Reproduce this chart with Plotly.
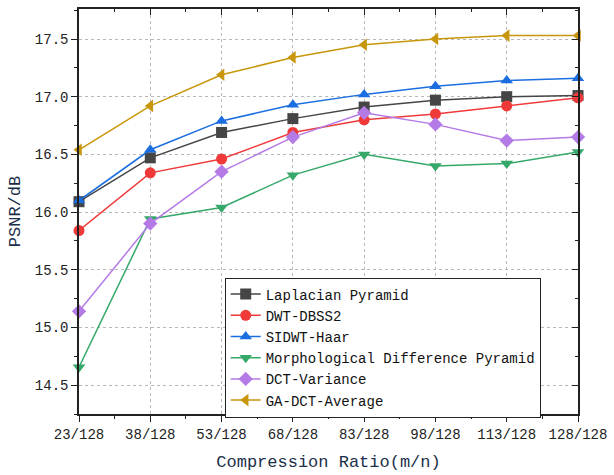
import plotly.graph_objects as go

ratios = [23, 38, 53, 68, 83, 98, 113, 128]
tick_labels = ["23/128", "38/128", "53/128", "68/128", "83/128", "98/128", "113/128", "128/128"]
y_ticks = [14.5, 15.0, 15.5, 16.0, 16.5, 17.0, 17.5]
y_tick_labels = ["14.5", "15.0", "15.5", "16.0", "16.5", "17.0", "17.5"]

laplacian = [16.09, 16.47, 16.69, 16.81, 16.91, 16.97, 17.00, 17.01]
dwt_dbss2 = [15.84, 16.34, 16.46, 16.69, 16.80, 16.85, 16.92, 16.99]
sidwt_haar = [16.10, 16.54, 16.79, 16.93, 17.02, 17.09, 17.14, 17.16]
morph_diff = [14.655, 15.94, 16.04, 16.32, 16.50, 16.40, 16.42, 16.52]
dct_var = [15.14, 15.90, 16.35, 16.65, 16.86, 16.76, 16.62, 16.65]
ga_dct_avg = [16.54, 16.92, 17.19, 17.34, 17.45, 17.50, 17.53, 17.53]

series = [
    ("Laplacian Pyramid", laplacian, "#454545", "square"),
    ("DWT-DBSS2", dwt_dbss2, "#f03a3a", "circle"),
    ("SIDWT-Haar", sidwt_haar, "#1a6ee0", "triangle-up"),
    ("Morphological Difference Pyramid", morph_diff, "#35a86a", "triangle-down"),
    ("DCT-Variance", dct_var, "#b47ae6", "diamond"),
    ("GA-DCT-Average", ga_dct_avg, "#c8960a", "triangle-left"),
]

fig = go.Figure()
# invisible trace on mirrored axes (top / right) so their inward ticks are drawn
fig.add_trace(go.Scatter(x=ratios, y=laplacian, xaxis="x2", yaxis="y2", mode="markers",
                         marker=dict(opacity=0), showlegend=False, hoverinfo="skip"))
for name, vals, color, sym in series:
    fig.add_trace(go.Scatter(
        x=ratios, y=vals, name=name, mode="lines+markers",
        line=dict(color=color, width=1.5),
        marker=dict(symbol=sym, size=11, color=color),
        cliponaxis=False,
    ))

font_main = "Liberation Mono, DejaVu Sans Mono, monospace"
axis_col = "#222222"
title_col = "#1b2f4a"
x_range = [23, 128]
y_range = [14.25, 17.76]

fig.update_layout(
    width=614, height=475,
    margin=dict(l=79, r=31, t=7, b=61),
    paper_bgcolor="white", plot_bgcolor="white",
    font=dict(family=font_main, size=14, color="#222222"),
    legend=dict(
        x=0.292, y=0.337, xanchor="left", yanchor="top",
        bordercolor=axis_col, borderwidth=1, bgcolor="white",
        font=dict(family=font_main, size=14, color="#111111"),
        tracegroupgap=0,
    ),
    showlegend=True,
    xaxis=dict(
        range=x_range, tickmode="array", tickvals=ratios, ticktext=tick_labels,
        showline=True, linecolor=axis_col, linewidth=1.5, mirror=True,
        ticks="outside", ticklen=6, tickcolor=axis_col,
        showgrid=True, gridcolor="#b8b8b8", griddash="dot", gridwidth=1,
        zeroline=False,
        minor=dict(tickmode="linear", tick0=23, dtick=7.5, ticks="outside", ticklen=3, tickcolor=axis_col, showgrid=False),
        title=dict(text="Compression Ratio(m/n)", font=dict(size=17, color=title_col, family=font_main), standoff=14),
        tickfont=dict(size=14, color="#222222"),
    ),
    yaxis=dict(
        range=y_range, tickmode="array", tickvals=y_ticks, ticktext=y_tick_labels,
        showline=True, linecolor=axis_col, linewidth=1.5, mirror=True,
        ticks="outside", ticklen=6, tickcolor=axis_col,
        showgrid=True, gridcolor="#b8b8b8", griddash="dot", gridwidth=1,
        zeroline=False,
        minor=dict(tickmode="linear", tick0=14.25, dtick=0.25, ticks="outside", ticklen=3, tickcolor=axis_col, showgrid=False),
        title=dict(text="PSNR/dB", font=dict(size=17, color=title_col, family=font_main), standoff=10),
        tickfont=dict(size=14, color="#222222"),
    ),
    xaxis2=dict(
        overlaying="x", side="top", range=x_range, anchor="y",
        tickmode="array", tickvals=ratios, showticklabels=False,
        ticks="inside", ticklen=6, tickcolor=axis_col, showgrid=False, zeroline=False, showline=False,
        minor=dict(tickmode="linear", tick0=23, dtick=7.5, ticks="inside", ticklen=3, tickcolor=axis_col, showgrid=False),
    ),
    yaxis2=dict(
        overlaying="y", side="right", range=y_range, anchor="x",
        tickmode="array", tickvals=y_ticks, showticklabels=False,
        ticks="inside", ticklen=6, tickcolor=axis_col, showgrid=False, zeroline=False, showline=False,
        minor=dict(tickmode="linear", tick0=14.25, dtick=0.25, ticks="inside", ticklen=3, tickcolor=axis_col, showgrid=False),
    ),
)

fig.write_html("out.html", config={"displayModeBar": False},
               post_script="document.body.style.margin='0';")
